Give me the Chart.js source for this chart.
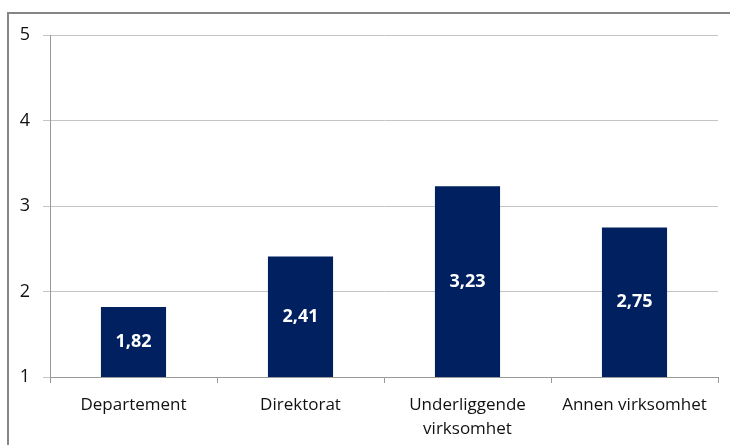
<!DOCTYPE html>
<html lang="no">
<head>
    <meta charset="UTF-8">
    <title>Gjennomsnitt</title>
    <script src="https://cdn.jsdelivr.net/npm/chart.js"></script>
    <style>
        body {
            margin: 0;
            padding: 0;
            background-color: #fff;
        }
        .frame {
            position: absolute;
            left: 7px;
            top: 12px;
            width: 730px;
            height: 440px;
            border-top: 2px solid #868686;
            border-left: 2px solid #868686;
        }
        .wrap {
            position: absolute;
            left: 0;
            top: 0;
            width: 730px;
            height: 445px;
        }
    </style>
</head>
<body>
    <div class="frame"></div>
    <div class="wrap">
        <canvas id="chart" width="730" height="445"></canvas>
    </div>

    <script>
        var categories = ['Departement', 'Direktorat', ['Underliggende', 'virksomhet'], 'Annen virksomhet'];
        var values = [1.82, 2.41, 3.23, 2.75];
        var yTicks = [1, 2, 3, 4, 5];

        // draws the value in the middle of each bar, with a comma as decimal sign
        var barLabels = {
            id: 'barLabels',
            afterDatasetsDraw: function(chart) {
                var ctx = chart.ctx;
                var meta = chart.getDatasetMeta(0);
                var bottom = chart.chartArea.bottom;
                ctx.save();
                ctx.fillStyle = '#fff';
                ctx.font = 'bold 18px "Open Sans", sans-serif';
                ctx.textAlign = 'center';
                ctx.textBaseline = 'middle';
                meta.data.forEach(function(bar, i) {
                    var txt = values[i].toFixed(2).replace('.', ',');
                    var base = Math.min(bar.base, bottom);
                    ctx.fillText(txt, bar.x, (bar.y + base) / 2);
                });
                ctx.restore();
            }
        };

        var ctx = document.getElementById('chart').getContext('2d');
        var chart = new Chart(ctx, {
            type: 'bar',
            data: {
                labels: categories,
                datasets: [{
                    data: values,
                    backgroundColor: '#002060',
                    borderWidth: 0,
                    categoryPercentage: 1,
                    barPercentage: 0.39
                }]
            },
            options: {
                responsive: false,
                animation: false,
                layout: { padding: { top: 35, right: 12, left: 0, bottom: 0 } },
                plugins: {
                    legend: { display: false },
                    tooltip: { enabled: false }
                },
                scales: {
                    x: {
                        afterFit: function(scale) { scale.height = 68; },
                        grid: {
                            drawOnChartArea: false,
                            offset: true,
                            color: '#999',
                            tickLength: 6
                        },
                        border: { color: '#999', width: 1 },
                        ticks: {
                            color: '#111',
                            padding: 10,
                            font: { family: '"Open Sans", sans-serif', size: 17, lineHeight: 1.4 }
                        }
                    },
                    y: {
                        min: yTicks[0],
                        max: yTicks[yTicks.length - 1],
                        afterFit: function(scale) { scale.width = 50; },
                        afterBuildTicks: function(scale) {
                            scale.ticks = yTicks.map(function(v) { return { value: v }; });
                        },
                        grid: {
                            color: '#c4c4c4',
                            tickLength: 7
                        },
                        border: { color: '#999', width: 1 },
                        ticks: {
                            color: '#111',
                            padding: 13,
                            font: { family: '"Open Sans", sans-serif', size: 18 }
                        }
                    }
                }
            },
            plugins: [barLabels]
        });
    </script>
</body>
</html>
